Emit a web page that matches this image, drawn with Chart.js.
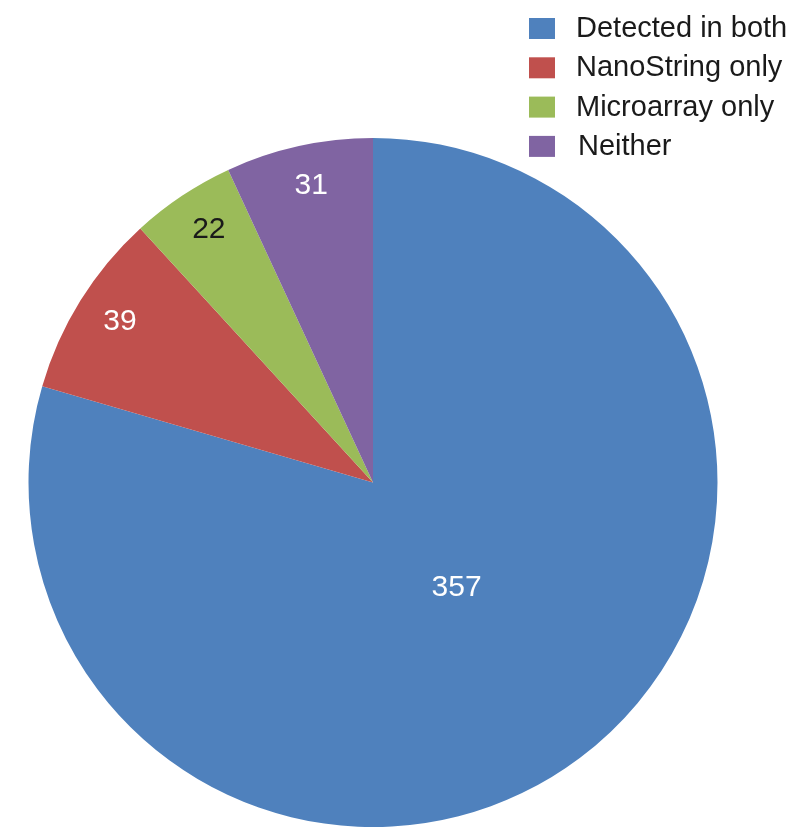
<!DOCTYPE html>
<html>
<head>
<meta charset="utf-8">
<script src="https://cdn.jsdelivr.net/npm/chart.js@4"></script>
<style>
  html,body{margin:0;padding:0;background:#fff;}
</style>
</head>
<body>
<canvas id="pie" width="798" height="827"></canvas>
<script>
/* ========= DATA ========= */
const labels = ['Detected in both', 'NanoString only', 'Microarray only', 'Neither'];
const counts = [357, 39, 22, 31];
const colors = ['#4f81bd', '#c0504d', '#9bbb59', '#8064a2'];
const labelColors = ['#ffffff', '#ffffff', '#1a1a1a', '#ffffff'];

const FONT = '"Liberation Sans", Arial, Helvetica, sans-serif';

/* value labels inside slices */
const sliceLabels = {
  id: 'sliceLabels',
  afterDatasetsDraw(chart){
    const {ctx} = chart;
    const meta = chart.getDatasetMeta(0);
    ctx.save();
    ctx.font = '30px ' + FONT;
    ctx.textAlign = 'center';
    ctx.textBaseline = 'middle';
    meta.data.forEach((arc, i) => {
      const mid = (arc.startAngle + arc.endAngle) / 2;
      const f = counts[i] > 100 ? 0.39 : 0.875;
      const r = arc.outerRadius * f;
      ctx.fillStyle = labelColors[i];
      ctx.fillText(String(counts[i]), arc.x + Math.cos(mid) * r + 3, arc.y + Math.sin(mid) * r - 2);
    });
    ctx.restore();
  }
};

/* legend top right */
const sideLegend = {
  id: 'sideLegend',
  afterDraw(chart){
    const {ctx} = chart;
    ctx.save();
    ctx.font = '29px ' + FONT;
    ctx.textBaseline = 'middle';
    ctx.textAlign = 'left';
    labels.forEach((t, i) => {
      const y = 28 + i * 39.3;
      ctx.fillStyle = colors[i];
      ctx.fillRect(529, y - 10, 26, 21);
      ctx.fillStyle = '#1a1a1a';
      ctx.fillText(t, i === 3 ? 578 : 576, y + 1);
    });
    ctx.restore();
  }
};

new Chart(document.getElementById('pie'), {
  type: 'pie',
  data: {
    labels,
    datasets: [{
      data: counts,
      backgroundColor: colors,
      borderWidth: 0
    }]
  },
  options: {
    responsive: false,
    animation: false,
    layout: {padding: {left: 28, right: 80, top: 138, bottom: 0}},
    plugins: {legend: {display: false}, tooltip: {enabled: false}}
  },
  plugins: [sliceLabels, sideLegend]
});
</script>
</body>
</html>
